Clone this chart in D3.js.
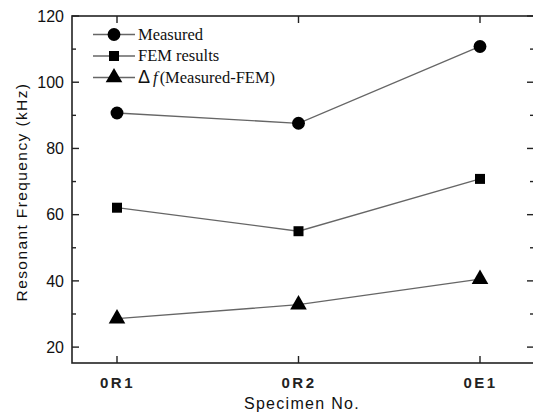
<!DOCTYPE html>
<html>
<head>
<meta charset="utf-8">
<script src="https://cdn.jsdelivr.net/npm/d3@7"></script>
<style>
  body { margin: 0; background: #fff; }
  svg { display: block; }
</style>
</head>
<body>
<script>
var specimens = ["0R1", "0R2", "0E1"];
var measured = [90.7, 87.6, 110.8];
var fem = [62.1, 55.0, 70.8];
var deltaF = [28.6, 32.8, 40.5];
var yTicks = [20, 40, 60, 80, 100, 120];
var yMinor = [30, 50, 70, 90, 110];

var width = 533, height = 414;
var plotL = 72, plotR = 534, plotT = 16, plotB = 363;

var svg = d3.select('body').append('svg')
            .attr('width', width)
            .attr('height', height);

var x = d3.scalePoint()
          .domain(specimens)
          .range([117, 480]);
var y = d3.scaleLinear()
          .domain([15.2, 120])
          .range([plotB, plotT]);

// frame
svg.append('rect')
   .attr('x', plotL).attr('y', plotT)
   .attr('width', plotR - plotL).attr('height', plotB - plotT)
   .attr('fill', 'none').attr('stroke', '#222').attr('stroke-width', 1.6);

// axes (labels only, ticks drawn inward below)
var yAxis = d3.axisLeft(y).tickValues(yTicks).tickSize(0).tickPadding(8);
var gy = svg.append('g').attr('transform', 'translate(' + plotL + ',0)').call(yAxis);
gy.select('.domain').remove();
gy.selectAll('.tick text')
  .attr('font-family', 'Liberation Sans, Arial, sans-serif')
  .attr('font-size', 16).attr('fill', '#111');

var xAxis = d3.axisBottom(x).tickSize(0).tickPadding(14);
var gx = svg.append('g').attr('transform', 'translate(0,' + plotB + ')').call(xAxis);
gx.select('.domain').remove();
gx.selectAll('.tick text')
  .attr('font-family', 'Liberation Sans, Arial, sans-serif')
  .attr('font-size', 15).attr('font-weight', 'bold')
  .attr('letter-spacing', 2.5).attr('fill', '#222');

// inward ticks on all four sides
var ticksG = svg.append('g').attr('stroke', '#222').attr('stroke-width', 1.4);
ticksG.selectAll('.ymaj').data(yTicks).enter().append('line')
  .attr('x1', plotL).attr('x2', plotL + 7)
  .attr('y1', function(d){ return y(d); }).attr('y2', function(d){ return y(d); });
ticksG.selectAll('.ymin').data(yMinor).enter().append('line')
  .attr('x1', plotL).attr('x2', plotL + 4)
  .attr('y1', function(d){ return y(d); }).attr('y2', function(d){ return y(d); });
ticksG.selectAll('.rmaj').data(yTicks).enter().append('line')
  .attr('x1', plotR).attr('x2', plotR - 7)
  .attr('y1', function(d){ return y(d); }).attr('y2', function(d){ return y(d); });
ticksG.selectAll('.rmin').data(yMinor).enter().append('line')
  .attr('x1', plotR).attr('x2', plotR - 4)
  .attr('y1', function(d){ return y(d); }).attr('y2', function(d){ return y(d); });
ticksG.selectAll('.topt').data(specimens).enter().append('line')
  .attr('x1', function(d){ return x(d); }).attr('x2', function(d){ return x(d); })
  .attr('y1', plotT).attr('y2', plotT + 7);
ticksG.selectAll('.bott').data(specimens).enter().append('line')
  .attr('x1', function(d){ return x(d); }).attr('x2', function(d){ return x(d); })
  .attr('y1', plotB).attr('y2', plotB - 7);

// axis titles
svg.append('text')
   .attr('transform', 'translate(27,' + 192 + ') rotate(-90)')
   .attr('text-anchor', 'middle')
   .attr('font-family', 'Liberation Sans, Arial, sans-serif')
   .attr('font-size', 15.5).attr('letter-spacing', 1.4).attr('fill', '#111')
   .text('Resonant Frequency (kHz)');
svg.append('text')
   .attr('x', 302).attr('y', 409)
   .attr('text-anchor', 'middle')
   .attr('font-family', 'Liberation Sans, Arial, sans-serif')
   .attr('font-size', 16).attr('letter-spacing', 1.3).attr('fill', '#111')
   .text('Specimen No.');

// series
var series = [
  { name: 'Measured', values: measured, shape: d3.symbolCircle, size: 130 },
  { name: 'FEM results', values: fem, shape: d3.symbolSquare, size: 100 },
  { name: 'delta', values: deltaF, shape: d3.symbolTriangle, size: 120 }
];

var line = d3.line()
  .x(function(d, i){ return x(specimens[i]); })
  .y(function(d){ return y(d); });

series.forEach(function(s) {
  svg.append('path')
     .attr('d', line(s.values))
     .attr('fill', 'none').attr('stroke', '#666').attr('stroke-width', 1.3);
  svg.selectAll(null).data(s.values).enter().append('path')
     .attr('d', d3.symbol().type(s.shape).size(s.size))
     .attr('transform', function(d, i){ return 'translate(' + x(specimens[i]) + ',' + y(d) + ')'; })
     .attr('fill', '#000');
});

// legend
var legend = svg.append('g');
series.forEach(function(s, i) {
  var ly = 34.5 + i * 21.5;
  legend.append('line')
        .attr('x1', 93).attr('x2', 135).attr('y1', ly).attr('y2', ly)
        .attr('stroke', '#666').attr('stroke-width', 1.3);
  legend.append('path')
        .attr('d', d3.symbol().type(s.shape).size(s.size))
        .attr('transform', 'translate(114,' + ly + ')')
        .attr('fill', '#000');
  var t = legend.append('text')
        .attr('x', 138).attr('y', ly + 5)
        .attr('font-family', 'Liberation Serif, Times New Roman, serif')
        .attr('font-size', 16.5).attr('fill', '#111');
  if (s.name === 'delta') {
    t.append('tspan').attr('font-family', 'Liberation Sans, Arial, sans-serif').attr('font-size', 18).text('\u0394');
    t.append('tspan').attr('dx', 3).attr('font-style', 'italic').text('f');
    t.append('tspan').attr('dx', 2).text('(Measured-FEM)');
  } else {
    t.text(s.name);
  }
});
</script>
</body>
</html>
